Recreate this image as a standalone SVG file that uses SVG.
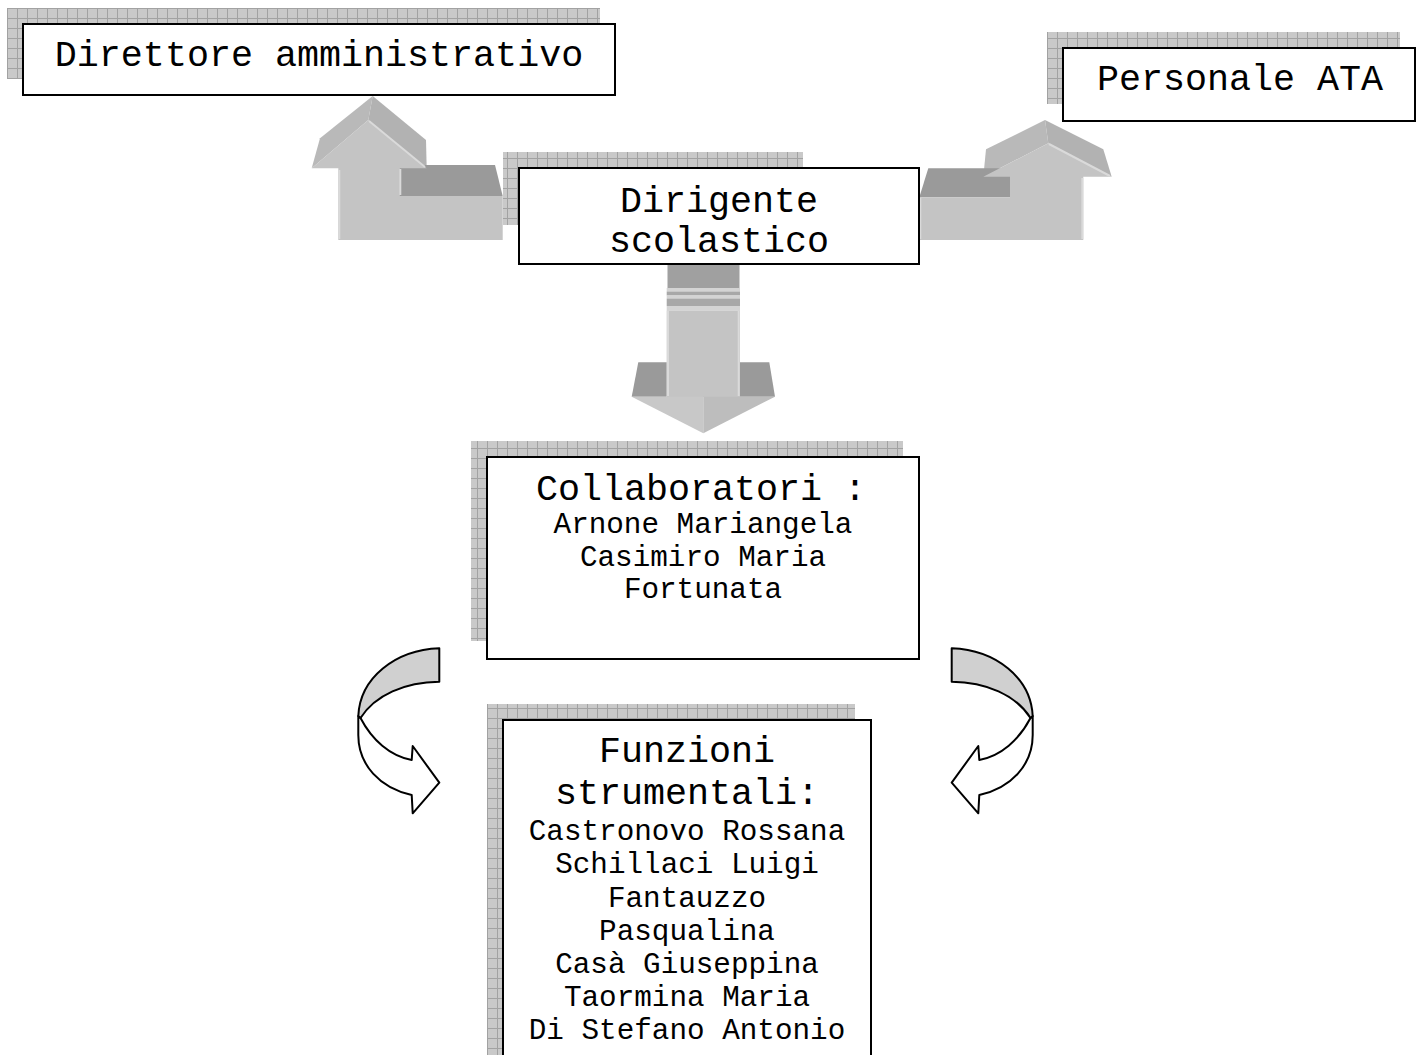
<svg xmlns="http://www.w3.org/2000/svg" width="1423" height="1055" viewBox="0 0 1423 1055">
<style>
.box{fill:#ffffff;stroke:#000000;stroke-width:2}
.shadow{fill:url(#grid)}
.big{font-family:"Liberation Mono","Courier New",monospace;font-size:36.7px;fill:#000;text-anchor:middle}
.small{font-family:"Liberation Mono","Courier New",monospace;font-size:29.3px;fill:#000;text-anchor:middle}
.front{fill:#c4c4c4}
.slope{fill:#b9b9b9}
.slope2{fill:#b2b2b2}
.dark{fill:#9a9a9a}
.hl{fill:none;stroke:#dadada;stroke-width:2}
.curve{stroke:#000;stroke-width:2;stroke-linejoin:round}
</style>
<defs>
<pattern id="grid" patternUnits="userSpaceOnUse" width="10" height="10" x="7" y="8">
<rect width="10" height="10" fill="#c9c9c9"/>
<path d="M0.5,0 V10 M0,0.5 H10" stroke="#a2a2a2" stroke-width="1"/>
</pattern>
</defs>
<rect width="1423" height="1055" fill="#ffffff"/>

<g id="connectors">
  <!-- left block arrow (Dirigente -> Direttore) -->
  <g id="arrow-left">
    <polygon class="slope" points="311.7,168.3 320,138.3 372.7,96 368.3,120"/>
    <polygon class="slope2" points="372.7,96 426,140 426.7,168.3 368.3,120"/>
    <polygon class="dark" points="399.3,196 399.3,165 495,165 502.7,196"/>
    <polygon class="front" points="311.7,168.3 368.3,120 426.7,168.3 399.3,168.3 399.3,196 502.7,196 502.7,240 338.3,240 338.3,168.3"/>
    <polyline class="hl" points="339.3,170 339.3,239"/>
    <polyline class="hl" points="369,121 425,167"/>
    <polyline class="hl" points="400.3,169 400.3,195"/>
  </g>
  <!-- right block arrow (Dirigente -> Personale ATA) -->
  <g id="arrow-right">
    <polygon class="slope" points="983.3,176.7 986,149.3 1045,120 1048.3,143.3"/>
    <polygon class="slope2" points="1045,120 1103.3,149.3 1111.7,176.7 1048.3,143.3"/>
    <polygon class="dark" points="919.3,197.3 928.3,168.3 1010,168.3 1010,197.3"/>
    <polygon class="front" points="983.3,176.7 1048.3,143.3 1111.7,176.7 1083.3,176.7 1083.3,240 919.3,240 919.3,197.3 1010,197.3 1010,176.7"/>
    <polyline class="hl" points="920.3,198 920.3,239"/>
    <polyline class="hl" points="1049,144 1110,176"/>
    <polyline class="hl" points="1082.3,178 1082.3,239"/>
  </g>
  <!-- down block arrow (Dirigente -> Collaboratori) -->
  <g id="arrow-down">
    <rect x="667.5" y="264" width="72" height="24" fill="#a0a0a0"/>
    <rect x="666.7" y="288" width="73.3" height="3.5" fill="#d4d4d4"/>
    <rect x="666.7" y="291.5" width="73.3" height="4" fill="#a8a8a8"/>
    <rect x="666.7" y="295.5" width="73.3" height="3" fill="#d4d4d4"/>
    <rect x="666.7" y="298.5" width="73.3" height="7.5" fill="#a8a8a8"/>
    <rect x="666.7" y="306" width="73.3" height="4.5" fill="#d4d4d4"/>
    <polygon class="dark" points="638.3,362.3 666.7,362.3 666.7,396.7 631.7,396.7"/>
    <polygon class="dark" points="740,362.3 769.3,362.3 775,396.7 740,396.7"/>
    <rect class="front" x="666.7" y="310.5" width="73.3" height="86.5"/>
    <polyline class="hl" points="668,311 668,396"/>
    <polyline class="hl" points="738.7,311 738.7,396"/>
    <polygon fill="#c8c8c8" points="631.7,396.7 703.3,396.7 703.3,433.3"/>
    <polygon fill="#bdbdbd" points="703.3,396.7 775,396.7 703.3,433.3"/>
  </g>
  <!-- curved arrows (Collaboratori -> Funzioni strumentali) -->
  <g id="curve-left">
    <path class="curve" fill="#ffffff" d="M360.5,718 C372,740 390,756 411.7,760 L412.7,746 L439.3,782.7 L412.7,813.3 L411.7,795 C380,788 358.3,765 358.3,735 L358.3,716 Z"/>
    <path class="curve" fill="#d0d0d0" d="M439.3,648.3 C395,650 360,678 358.3,716 L360.5,718 C375,695 405,682 439.3,681.7 Z"/>
  </g>
  <g id="curve-right" transform="translate(1391,0) scale(-1,1)">
    <path class="curve" fill="#ffffff" d="M360.5,718 C372,740 390,756 411.7,760 L412.7,746 L439.3,782.7 L412.7,813.3 L411.7,795 C380,788 358.3,765 358.3,735 L358.3,716 Z"/>
    <path class="curve" fill="#d0d0d0" d="M439.3,648.3 C395,650 360,678 358.3,716 L360.5,718 C375,695 405,682 439.3,681.7 Z"/>
  </g>
</g>

<g id="direttore">
  <rect class="shadow" x="7" y="8" width="593" height="71"/>
  <rect class="box" x="23" y="24" width="592" height="71"/>
  <text class="big" x="319" y="66">Direttore amministrativo</text>
</g>

<g id="personale-ata">
  <rect class="shadow" x="1047" y="32" width="353" height="72"/>
  <rect class="box" x="1063" y="48" width="352" height="73"/>
  <text class="big" x="1240" y="90">Personale ATA</text>
</g>

<g id="dirigente">
  <rect class="shadow" x="503" y="152" width="300" height="73"/>
  <rect class="box" x="519" y="168" width="400" height="96"/>
  <text class="big" x="719" y="212">Dirigente</text>
  <text class="big" x="719" y="252">scolastico</text>
</g>

<g id="collaboratori">
  <rect class="shadow" x="471" y="441" width="432" height="200"/>
  <rect class="box" x="487" y="457" width="432" height="202"/>
  <text class="big" x="701" y="500">Collaboratori :</text>
  <text class="small" x="703" y="533">Arnone Mariangela</text>
  <text class="small" x="703" y="566">Casimiro Maria</text>
  <text class="small" x="703" y="598">Fortunata</text>
</g>

<g id="funzioni">
  <rect class="shadow" x="487" y="704" width="368" height="400"/>
  <rect class="box" x="503" y="720" width="368" height="400"/>
  <text class="big" x="687" y="762">Funzioni</text>
  <text class="big" x="687" y="804">strumentali:</text>
  <text class="small" x="687" y="840">Castronovo Rossana</text>
  <text class="small" x="687" y="873">Schillaci Luigi</text>
  <text class="small" x="687" y="907">Fantauzzo</text>
  <text class="small" x="687" y="940">Pasqualina</text>
  <text class="small" x="687" y="973">Casà Giuseppina</text>
  <text class="small" x="687" y="1006">Taormina Maria</text>
  <text class="small" x="687" y="1039">Di Stefano Antonio</text>
</g>
</svg>
